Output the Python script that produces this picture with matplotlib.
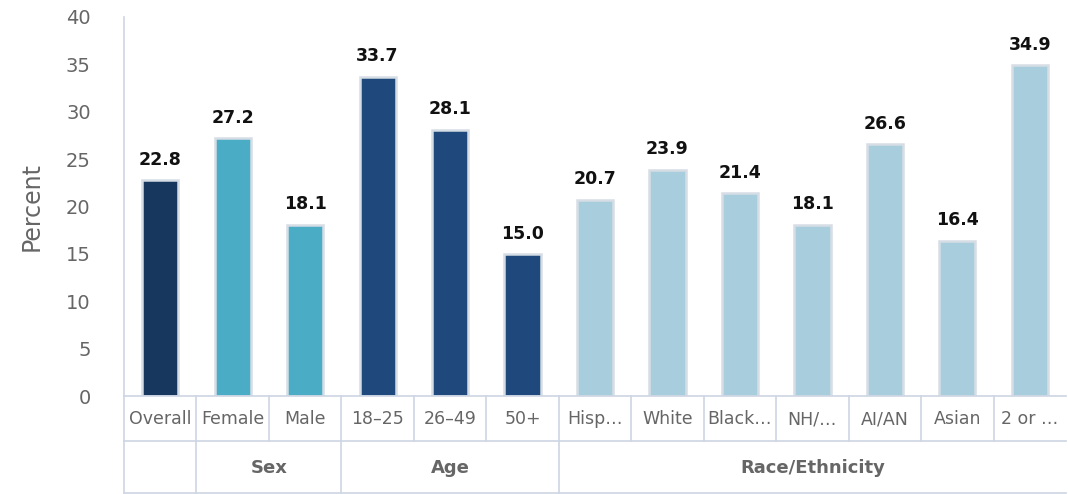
import matplotlib
matplotlib.use("Agg")
import matplotlib.pyplot as plt

categories = ["Overall", "Female", "Male", "18–25", "26–49", "50+",
              "Hisp…", "White", "Black…", "NH/…", "AI/AN", "Asian", "2 or …"]
values = [22.8, 27.2, 18.1, 33.7, 28.1, 15.0, 20.7, 23.9, 21.4, 18.1, 26.6, 16.4, 34.9]
groups = ["", "Sex", "Sex", "Age", "Age", "Age",
          "Race/Ethnicity", "Race/Ethnicity", "Race/Ethnicity", "Race/Ethnicity",
          "Race/Ethnicity", "Race/Ethnicity", "Race/Ethnicity"]
group_colors = {"": "#17375e", "Sex": "#4bacc6", "Age": "#1f497d", "Race/Ethnicity": "#a8cddc"}
yticks = [0, 5, 10, 15, 20, 25, 30, 35, 40]

plt.rcParams['font.family'] = ['DejaVu Sans']
W, H = 1068, 494
fig = plt.figure(figsize=(W / 100, H / 100), dpi=100)
L, R = 124, 1066
top_px, base_px, bottom_px = 17, 396, 493
ax = fig.add_axes([L / W, 1 - base_px / H, (R - L) / W, (base_px - top_px) / H])
n = len(categories)
xs = list(range(n))
ax.set_xlim(-0.5, n - 0.5)
ax.set_ylim(0, 40)
cols = [group_colors[g] for g in groups]
bars = ax.bar(xs, values, width=0.5, color=cols, edgecolor="#d6dde5", linewidth=1.8)
for x, v in zip(xs, values):
    ax.text(x, v + 1.2, f"{v:.1f}", ha="center", va="bottom", fontsize=12.5, fontweight="bold", color="#111111")
ax.set_yticks(yticks)
ax.set_yticklabels([str(t) for t in yticks], fontsize=14, color="#666666")
ax.tick_params(axis="y", length=0, pad=24)
ax.set_xticks([])
for s in ["top", "right", "bottom"]:
    ax.spines[s].set_visible(False)
ax.spines["left"].set_color("#cdd6e4")
ax.spines["left"].set_linewidth(1.2)
ax.set_ylabel("Percent", fontsize=17, color="#666666", labelpad=16)

# category table
tax = fig.add_axes([L / W, 1 - bottom_px / H, (R - L) / W, (bottom_px - base_px) / H])
tax.set_xlim(-0.5, n - 0.5)
tax.set_ylim(0, 2)
tax.axis("off")
lc = "#cdd6e4"
lw = 1.2
tax.plot([-0.5, n - 0.5], [2, 2], color=lc, lw=lw, clip_on=False)
tax.plot([-0.5, n - 0.5], [1.07, 1.07], color=lc, lw=lw, clip_on=False)
tax.plot([-0.5, n - 0.5], [0, 0], color=lc, lw=lw, clip_on=False)
for i in range(n):
    tax.plot([i - 0.5, i - 0.5], [1.07, 2], color=lc, lw=lw, clip_on=False)
    tax.text(i, 1.52, categories[i], ha="center", va="center", fontsize=12.5, color="#666666")
# group spans
spans = []
start = 0
for i in range(1, n + 1):
    if i == n or groups[i] != groups[start]:
        spans.append((start, i - 1, groups[start]))
        start = i
for a, b, g in spans:
    tax.plot([a - 0.5, a - 0.5], [0, 1.07], color=lc, lw=lw, clip_on=False)
    tax.text((a + b) / 2, 0.52, g, ha="center", va="center", fontsize=13, fontweight="bold", color="#666666")

fig.savefig("out.png", dpi=100)
